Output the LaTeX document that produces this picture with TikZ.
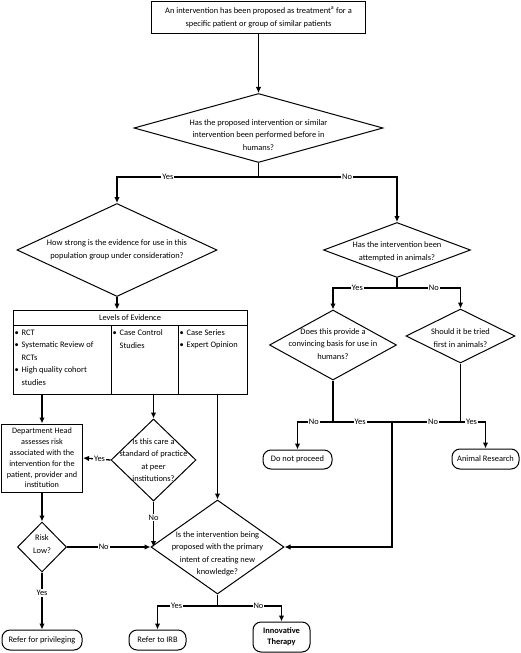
\documentclass[tikz,border=0pt]{standalone}
\usepackage{fontspec}
\setmainfont{Carlito}
\usetikzlibrary{shapes,arrows,arrows.meta,positioning}

\newcommand{\bitem}{\makebox[7pt][l]{\textbullet}}
\newcommand{\bcont}{\hspace*{7pt}}

\tikzset{
  box/.style = {draw, line width=1pt, align=center, inner sep=1pt},
  decision/.style = {diamond, draw, line width=1pt, inner sep=0pt},
  qtext/.style = {align=center, inner sep=0pt},
  endbox/.style = {draw, line width=1pt, rounded corners=8pt, align=center, inner sep=1pt},
  coltext/.style = {align=left, inner sep=0pt, anchor=north west, font=\fontsize{8.4}{12.5}\selectfont},
  lbl/.style = {fill=white, inner sep=1pt},
  line/.style = {line width=1.3pt},
  flow/.style = {line width=1.3pt, ->, >={Latex[length=6pt, width=5.5pt]}},
}

\begin{document}
\begin{tikzpicture}[x = 1pt, y = -1pt, font=\fontsize{8.4}{12.5}\selectfont]
\useasboundingbox (0,0) rectangle (520,653);

% top of the chart
\node[box, minimum width=214pt, minimum height=32pt] (start) at (258.5,17) {An intervention has been proposed as treatment\raisebox{1.5pt}{\textsuperscript{a}} for a\\specific patient or group of similar patients};
\node[decision, minimum width=249pt, minimum height=69pt, label={[qtext, yshift=-7pt]center:{Has the proposed intervention or similar\\intervention been performed before in\\humans?}}] (q1) at (258.5,128) {};

% humans branch
\node[decision, minimum width=200pt, minimum height=93pt, label={[qtext]center:{How strong is the evidence for use in this\\population group under consideration?}}] (q2) at (117,250) {};
\node[box, minimum width=234pt, minimum height=15pt, inner sep=0pt] (hdr) at (130,317.5) {Levels of Evidence};
\node[draw, line width=1pt, minimum width=98pt, minimum height=69pt] (c1) at (62,359.5) {};
\node[draw, line width=1pt, minimum width=67pt, minimum height=69pt] (c2) at (144.5,359.5) {};
\node[draw, line width=1pt, minimum width=69pt, minimum height=69pt] (c3) at (212.5,359.5) {};
\node[coltext] (c1t) at ([shift={(2pt,-5pt)}]c1.north west) {\bitem RCT\\\bitem Systematic Review of\\\bcont RCTs\\\bitem High quality cohort\\\bcont studies};
\node[coltext] (c2t) at ([shift={(2pt,-5pt)}]c2.north west) {\bitem Case Control\\\bcont Studies};
\node[coltext] (c3t) at ([shift={(2pt,-5pt)}]c3.north west) {\bitem Case Series\\\bitem Expert Opinion};

\node[box, minimum width=81pt, minimum height=68pt, font=\fontsize{8.2}{10.8}\selectfont] (dh) at (42,458) {Department Head\\assesses risk\\associated with the\\intervention for the\\patient, provider and\\institution};
\node[decision, minimum width=85pt, minimum height=82pt, label={[qtext]center:{Is this care a\\standard of practice\\at peer\\institutions?}}] (q6) at (153.5,460) {};
\node[decision, minimum width=49pt, minimum height=50pt, label={[qtext, yshift=3pt]center:{Risk\\Low?}}] (q7) at (42,547) {};
\node[decision, minimum width=133pt, minimum height=94pt, label={[qtext, yshift=-7pt]center:{Is the intervention being\\proposed with the primary\\intent of creating new\\knowledge?}}] (q8) at (217.5,547) {};

% animals branch
\node[decision, minimum width=147pt, minimum height=55pt, label={[qtext, yshift=-2pt]center:{Has the intervention been\\attempted in animals?}}] (q3) at (397,250) {};
\node[decision, minimum width=127pt, minimum height=70pt, label={[qtext, yshift=1pt]center:{Does this provide a\\convincing basis for use in\\humans?}}] (q4) at (333,345) {};
\node[decision, minimum width=109pt, minimum height=54pt, label={[qtext, yshift=-2pt]center:{Should it be tried\\first in animals?}}] (q5) at (460.5,336) {};

% end points
\node[endbox, minimum width=80pt, minimum height=20pt] (t1) at (42,640) {Refer for privileging};
\node[endbox, minimum width=57pt, minimum height=20pt] (t2) at (157.5,640) {Refer to IRB};
\node[endbox, minimum width=57pt, minimum height=30pt, font=\bfseries\fontsize{8.4}{11}\selectfont] (t3) at (281.5,637) {Innovative\\Therapy};
\node[endbox, minimum width=69pt, minimum height=19pt] (t4) at (297.5,459.5) {Do not proceed};
\node[endbox, minimum width=67pt, minimum height=20pt] (t5) at (485.5,459) {Animal Research};

% split points
\coordinate (s1) at (258.5,177);
\coordinate (s3) at (397,288);
\coordinate (s4) at (333,422);
\coordinate (s5) at (460.5,422);
\coordinate (jn) at (392,422);
\coordinate (s8) at (217.5,606);

% connectors
\draw[flow] (start) -- (q1);
\draw[line] (q1.south) -- (s1);
\draw[flow] (s1) -| node[lbl, pos=.32] (yes1) {Yes} (q2.north);
\draw[flow] (s1) -| node[lbl, pos=.32] (no1) {No} (q3.north);
\draw[flow] (q2.south) -- (q2.south |- hdr.north);
\draw[flow] (c1.south -| dh.north) -- (dh.north);
\draw[flow] (c2.south -| q6.north) -- (q6.north);
\draw[flow] (c3.south -| q8.north) -- (q8.north);
\draw[flow] (q6.west) -- node[lbl, pos=.4] (yes6) {Yes} (dh.east);
\draw[flow] (q6.south) -- node[lbl, pos=.35] (no6) {No} (q6.south |- q8.west);
\draw[flow] (dh.south) -- (q7.north);
\draw[flow] (q7.east) -- node[lbl, pos=.44] (no7) {No} (q8.west);
\draw[flow] (q7.south) -- node[lbl, pos=.36] (yes7) {Yes} (t1.north);
\draw[line] (q8.south) -- (s8);
\draw[flow] (s8) -| node[lbl, pos=.34] (yes8) {Yes} (t2.north);
\draw[flow] (s8) -| node[lbl, pos=.32] (no8) {No} (t3.north);
\draw[line] (q3.south) -- (s3);
\draw[flow] (s3) -| node[lbl, pos=.31] (yes3) {Yes} (q4.north);
\draw[flow] (s3) -| node[lbl, pos=.29] (no3) {No} (q5.north);
\draw[line] (q4.south) -- (s4);
\draw[flow] (s4) -| node[lbl, pos=.27] (no4) {No} (t4.north);
\draw[flow] (s4) -- node[lbl, pos=.46] (yes4) {Yes} (jn) |- (q8.east);
\draw[line] (q5.south) -- (s5);
\draw[line] (s5) -- node[lbl, pos=.4] (no5) {No} (jn);
\draw[flow] (s5) -| node[lbl, pos=.22] (yes5) {Yes} (t5.north);
\end{tikzpicture}
\end{document}
